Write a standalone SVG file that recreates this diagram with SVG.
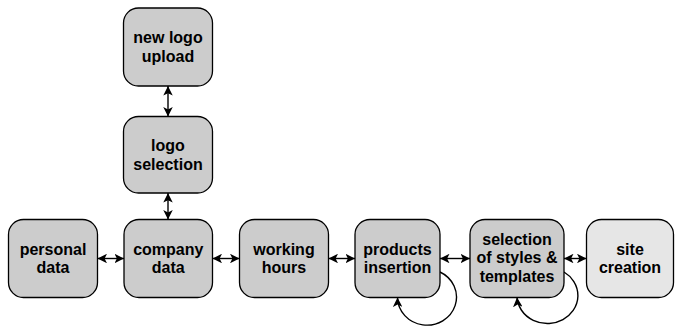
<svg xmlns="http://www.w3.org/2000/svg" width="675" height="327" viewBox="0 0 675 327">
<style>
.box{fill:#cccccc;stroke:#000;stroke-width:1.3}
.light{fill:#e6e6e6}
.lbl{font-family:"Liberation Sans",Arial,Helvetica,sans-serif;font-weight:bold;font-size:16px;fill:#000;text-anchor:middle}
.con{fill:none;stroke:#000;stroke-width:1.4}
</style>
<defs>
<marker id="ah" viewBox="0 0 10 10" refX="10" refY="5" markerWidth="9.5" markerHeight="9.5" markerUnits="userSpaceOnUse" orient="auto-start-reverse">
<path d="M0,0 L10,5 L0,10 L2.5,5 z" fill="#000"/>
</marker>
</defs>
<rect width="675" height="327" fill="#fff"/>
<g id="connectors">
<path class="con" d="M97.5,258.5 H124" marker-start="url(#ah)" marker-end="url(#ah)"/>
<path class="con" d="M212.5,258.5 H239.5" marker-start="url(#ah)" marker-end="url(#ah)"/>
<path class="con" d="M328.5,258.5 H355" marker-start="url(#ah)" marker-end="url(#ah)"/>
<path class="con" d="M440,258.5 H470" marker-start="url(#ah)" marker-end="url(#ah)"/>
<path class="con" d="M564,258.5 H586.5" marker-start="url(#ah)" marker-end="url(#ah)"/>
<path class="con" d="M168,86 V116.5" marker-start="url(#ah)" marker-end="url(#ah)"/>
<path class="con" d="M168,193 V219.5" marker-start="url(#ah)" marker-end="url(#ah)"/>
<path class="con" d="M440,272 A29.5,28 0 1 1 397.5,297.5" marker-end="url(#ah)"/>
<path class="con" d="M564,272 A30.5,28 0 1 1 517,297.5" marker-end="url(#ah)"/>
</g>
<g id="personal">
<rect class="box" x="8.5" y="219.5" width="89" height="78" rx="15"/>
<text class="lbl" x="53" y="254.75">personal</text>
<text class="lbl" x="53" y="273.25">data</text>
</g>
<g id="company">
<rect class="box" x="124" y="219.5" width="88.5" height="78" rx="15"/>
<text class="lbl" x="168.25" y="254.75">company</text>
<text class="lbl" x="168.25" y="273.25">data</text>
</g>
<g id="working">
<rect class="box" x="239.5" y="219.5" width="89" height="78" rx="15"/>
<text class="lbl" x="284" y="254.75">working</text>
<text class="lbl" x="284" y="273.25">hours</text>
</g>
<g id="products">
<rect class="box" x="355" y="219.5" width="85" height="78" rx="15"/>
<text class="lbl" x="397.5" y="254.75">products</text>
<text class="lbl" x="397.5" y="273.25">insertion</text>
</g>
<g id="selection">
<rect class="box" x="470" y="219.5" width="94" height="78" rx="15"/>
<text class="lbl" x="517" y="244.5">selection</text>
<text class="lbl" x="517" y="263">of styles &amp;</text>
<text class="lbl" x="517" y="281.5">templates</text>
</g>
<g id="site">
<rect class="box light" x="586.5" y="219.5" width="87" height="78" rx="15"/>
<text class="lbl" x="630" y="254.75">site</text>
<text class="lbl" x="630" y="273.25">creation</text>
</g>
<g id="newlogo">
<rect class="box" x="123.5" y="8" width="89" height="78" rx="15"/>
<text class="lbl" x="168" y="43.25">new logo</text>
<text class="lbl" x="168" y="61.75">upload</text>
</g>
<g id="logosel">
<rect class="box" x="123.5" y="116.5" width="89" height="76.5" rx="15"/>
<text class="lbl" x="168" y="151">logo</text>
<text class="lbl" x="168" y="169.5">selection</text>
</g>
</svg>
